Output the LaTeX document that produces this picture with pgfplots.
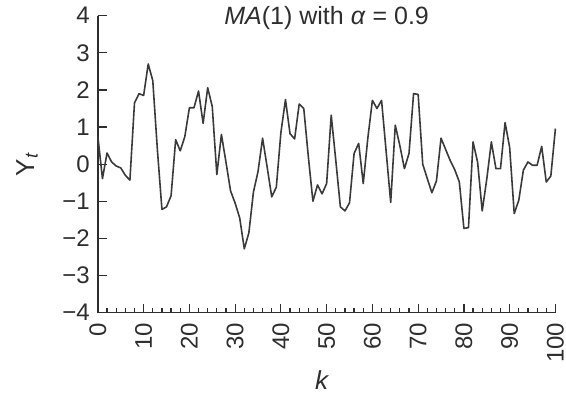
\documentclass[border=0pt]{standalone}
\usepackage{fontspec}
\setmainfont{Liberation Sans}
\usepackage{pgfplots}
\pgfplotsset{compat=1.18}
\definecolor{linegray}{HTML}{3A3A3A}
\definecolor{axgray}{HTML}{2E2E2E}
\pgfplotstableread{
k y
0 0.74
1 -0.39
2 0.30
3 0.06
4 -0.05
5 -0.10
6 -0.30
7 -0.43
8 1.65
9 1.90
10 1.85
11 2.70
12 2.25
13 0.40
14 -1.22
15 -1.15
16 -0.85
17 0.66
18 0.36
19 0.74
20 1.52
21 1.52
22 1.97
23 1.10
24 2.06
25 1.55
26 -0.28
27 0.80
28 0.05
29 -0.72
30 -1.05
31 -1.45
32 -2.28
33 -1.85
34 -0.75
35 -0.20
36 0.70
37 -0.08
38 -0.88
39 -0.62
40 0.85
41 1.74
42 0.82
43 0.68
44 1.62
45 1.50
46 0.20
47 -1.00
48 -0.56
49 -0.80
50 -0.52
51 1.32
52 0.10
53 -1.15
54 -1.26
55 -1.04
56 0.29
57 0.56
58 -0.52
59 0.70
60 1.72
61 1.50
62 1.72
63 0.35
64 -1.03
65 1.05
66 0.50
67 -0.12
68 0.29
69 1.90
70 1.88
71 0.00
72 -0.39
73 -0.77
74 -0.45
75 0.70
76 0.40
77 0.10
78 -0.15
79 -0.48
80 -1.73
81 -1.71
82 0.60
83 0.05
84 -1.26
85 -0.40
86 0.60
87 -0.12
88 -0.12
89 1.12
90 0.45
91 -1.33
92 -0.97
93 -0.16
94 0.06
95 -0.03
96 -0.03
97 0.48
98 -0.48
99 -0.32
100 0.96
}\datatable
\begin{document}
\begin{tikzpicture}
\begin{axis}[
  name=ax,
  scale only axis,
  width=228.8pt, height=148.5pt,
  xmin=0, xmax=100, ymin=-4, ymax=4,
  axis lines=left,
  axis line style={-, line width=0.75pt, color=axgray},
  every tick/.style={line width=0.6pt, color=axgray},
  tick align=inside,
  major tick length=4.5pt,
  minor tick length=2.2pt,
  xtick={0,10,...,100},
  xticklabels={0,10,20,30,40,50,60,70,80,90,100},
  minor x tick num=4,
  ytick={-4,-3,...,4},
  yticklabels={−4,−3,−2,−1,0,1,2,3,4},
  tick label style={font=\fontsize{12}{14}\selectfont, color=axgray},
  x tick label style={rotate=90, anchor=east, xshift=-1.5pt},
  y tick label style={xshift=-0.5pt},
  xlabel={\textit{k}},
  xlabel style={at={(axis description cs:0.49,-0.227)}, anchor=center, font=\fontsize{13}{15}\selectfont, color=axgray},
  ylabel={Y\textsubscript{\textit{t}}},
  ylabel style={at={(axis description cs:-0.155,0.5)}, anchor=center, font=\fontsize{13}{15}\selectfont, color=axgray},
  clip=false,
]
\addplot[color=linegray, line width=0.8pt, line join=round, mark=none] table[x=k, y=y] {\datatable};
\node[anchor=base, font=\fontsize{12.5}{15}\selectfont, color=axgray] at (rel axis cs:0.5,1) [yshift=-4.5pt] {\textit{MA}(1) with \textit{α} = 0.9};
\end{axis}
\pgfresetboundingbox
\path[use as bounding box] ([xshift=-48.95pt,yshift=-41.65pt]ax.south west) rectangle ([xshift=5.3pt,yshift=7.85pt]ax.north east);
\end{tikzpicture}
\end{document}
